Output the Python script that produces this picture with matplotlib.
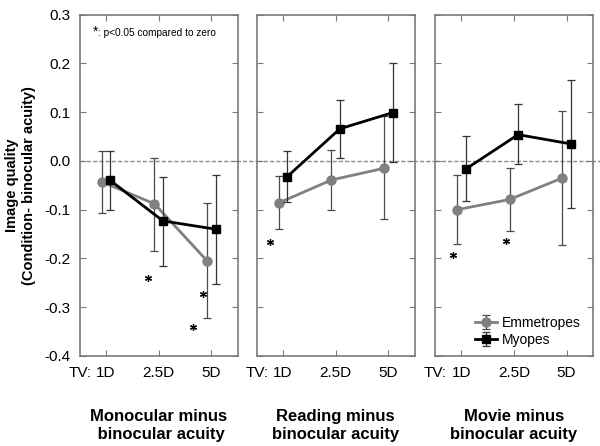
import matplotlib.pyplot as plt
import numpy as np

plt.rcParams['font.family'] = ['Liberation Sans', 'DejaVu Sans']

tv_labels = ["1D", "2.5D", "5D"]
y_ticks = [-0.4, -0.3, -0.2, -0.1, 0.0, 0.1, 0.2, 0.3]
y_labels = ["-0.4", "-0.3", "-0.2", "-0.1", "0.0", "0.1", "0.2", "0.3"]
panel_titles = ["Monocular minus\n binocular acuity",
                "Reading minus\nbinocular acuity",
                "Movie minus\nbinocular acuity"]

# mean, upper error end, lower error end per panel
emm_mean = [[-0.043, -0.088, -0.205], [-0.086, -0.039, -0.015], [-0.100, -0.079, -0.035]]
emm_hi = [[0.021, 0.007, -0.087], [-0.030, 0.022, 0.093], [-0.029, -0.014, 0.103]]
emm_lo = [[-0.106, -0.185, -0.322], [-0.139, -0.101, -0.120], [-0.171, -0.144, -0.173]]

myo_mean = [[-0.040, -0.123, -0.140], [-0.032, 0.066, 0.099], [-0.017, 0.054, 0.035]]
myo_hi = [[0.021, -0.032, -0.028], [0.020, 0.126, 0.200], [0.052, 0.116, 0.167]]
myo_lo = [[-0.100, -0.215, -0.253], [-0.084, 0.007, -0.003], [-0.083, -0.007, -0.097]]

# significance stars (x in tick units, y in data units)
star_x = [[1.8, 2.85, 2.65], [0.75], [0.85, 1.85]]
star_y = [[-0.240, -0.273, -0.340], [-0.167], [-0.192, -0.165]]

fig = plt.figure(figsize=(6.0, 4.46), dpi=100)
lefts = [0.133, 0.428, 0.725]
x = np.arange(1, 4)
off = 0.08
spine_c = "#7a7a7a"

for i in range(3):
    ax = fig.add_axes([lefts[i], 0.202, 0.263, 0.765])
    em = np.array(emm_mean[i]); my = np.array(myo_mean[i])
    ax.axhline(0, xmin=0, xmax=1.13 if i < 2 else 1.05, color="#8a8a8a",
               ls=(0, (3, 1.5)), lw=1.0, clip_on=False, zorder=1)
    ax.errorbar(x - off, em, yerr=[em - np.array(emm_lo[i]), np.array(emm_hi[i]) - em],
                color="#808080", ecolor="#4a4a4a", elinewidth=0.9, capsize=3, capthick=0.9,
                lw=2.0, marker="o", ms=6.5, mfc="#808080", mec="#808080",
                label="Emmetropes", zorder=3)
    ax.errorbar(x + off, my, yerr=[my - np.array(myo_lo[i]), np.array(myo_hi[i]) - my],
                color="black", ecolor="#333333", elinewidth=0.9, capsize=3, capthick=0.9,
                lw=2.0, marker="s", ms=5.5, mfc="black", mec="black",
                label="Myopes", zorder=4)
    ax.plot(star_x[i], star_y[i], ls="none", marker=(6, 2, 0), ms=5, mew=0.9,
            color="black", zorder=5)
    ax.set_xlim(0.5, 3.5)
    ax.set_ylim(-0.4, 0.3)
    ax.set_xticks(x)
    ax.set_xticklabels(tv_labels, fontsize=11)
    ax.set_yticks(y_ticks)
    if i == 0:
        ax.set_yticklabels(y_labels, fontsize=11)
        ax.set_ylabel("Image quality\n(Condition- binocular acuity)",
                      fontsize=10.5, fontweight="bold", labelpad=6, linespacing=1.2)
        ax.text(0.08, 0.95, "*", transform=ax.transAxes, fontsize=10, va="center")
        ax.text(0.115, 0.945, ": p<0.05 compared to zero", transform=ax.transAxes,
                fontsize=7.3, va="center")
    else:
        ax.set_yticklabels([])
    ax.tick_params(direction="in", length=4, width=0.8, color=spine_c,
                   top=True, right=True, pad=7)
    for s in ax.spines.values():
        s.set_color(spine_c)
        s.set_linewidth(1.2)
    ax.text(0.0, -0.05, "TV:", transform=ax.transAxes, ha="center", va="center",
            fontsize=11)
    ax.text(0.5, -0.155, panel_titles[i], transform=ax.transAxes, ha="center", va="top",
            fontsize=12, fontweight="bold", linespacing=1.3)
    if i == 2:
        ax.legend(loc="lower right", bbox_to_anchor=(1.0, -0.01), frameon=False,
                  fontsize=10, handlelength=1.6, handletextpad=0.3, labelspacing=0.2)

fig.savefig("out.png", dpi=100)
